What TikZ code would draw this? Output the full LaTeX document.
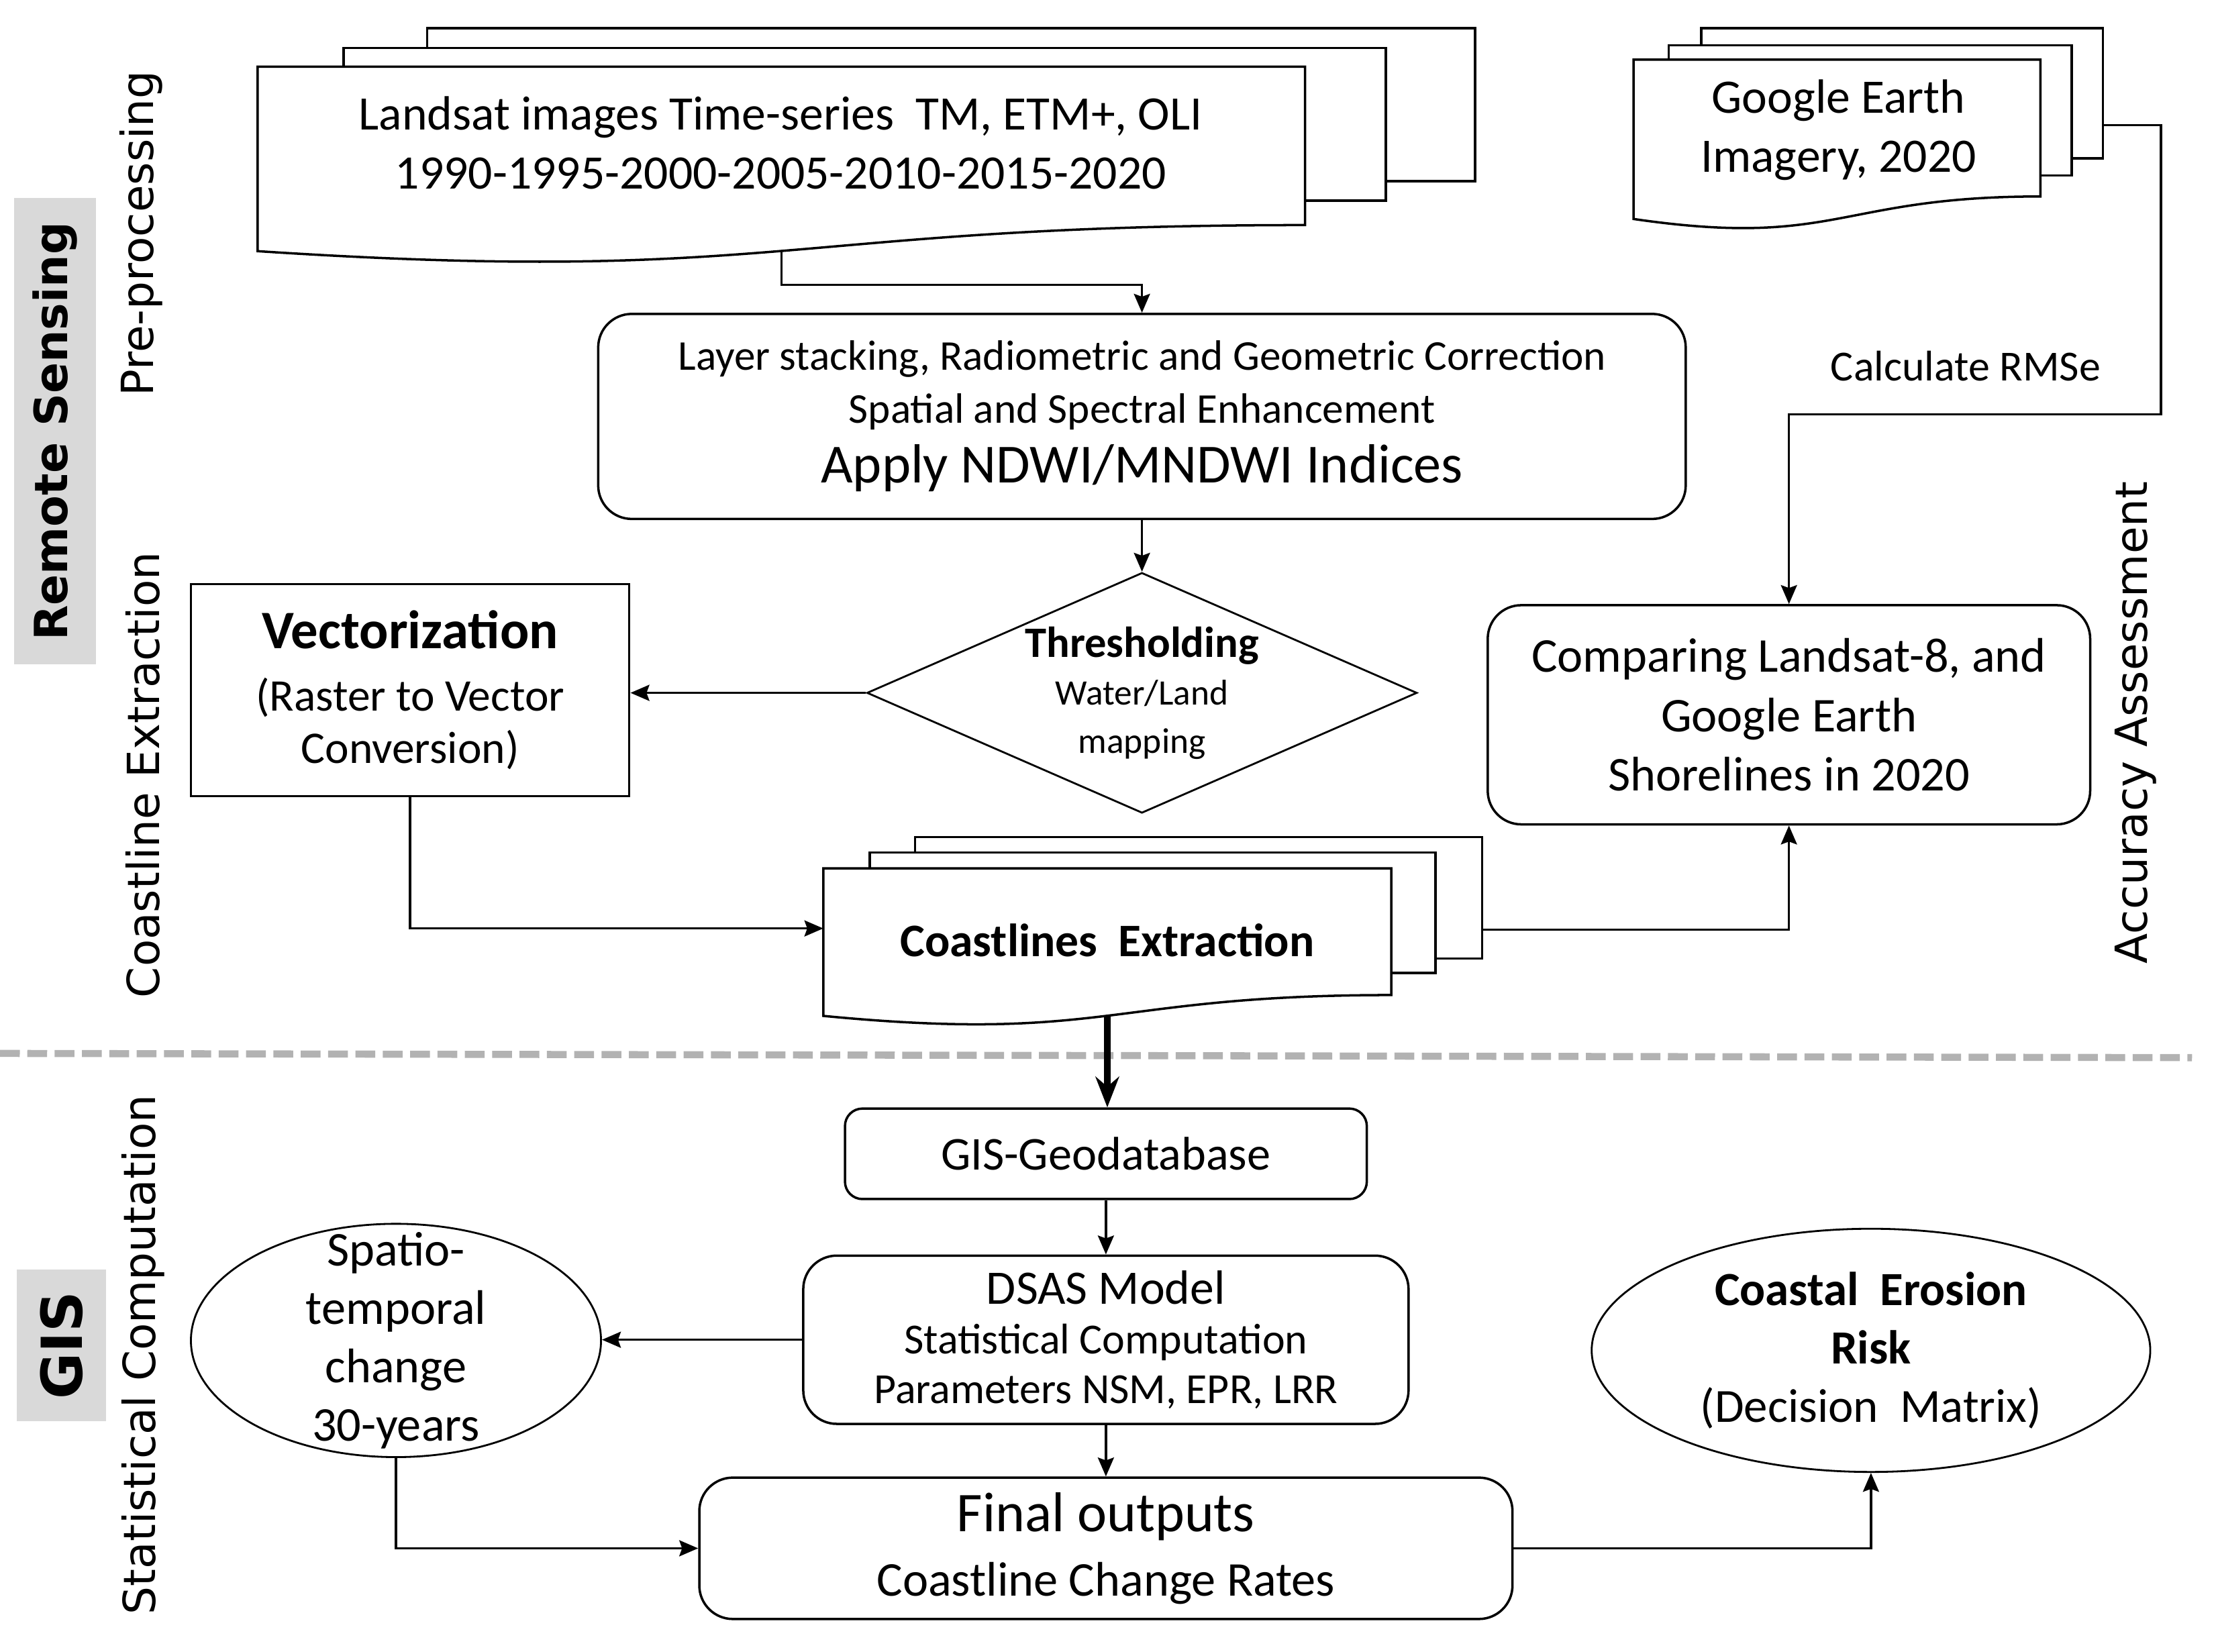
\documentclass[tikz,border=0pt]{standalone}
\usepackage{fontspec}
\setmainfont{Carlito}
\newfontfamily\sidefont{DejaVu Sans}
\usetikzlibrary{shapes.geometric, calc, arrows.meta}

\newcommand{\pu}{0.010537cm}
\newcommand{\sz}[2]{\fontsize{#1}{#2}\selectfont}
% outline of a flowchart "document" sheet, drawn on the anchors of an empty node
\newcommand{\docoutline}[1]{%
  \draw[fill=white] (#1.north west) -- (#1.north east)
    -- ($(#1.north east)!0.802!(#1.south east)$)
    .. controls ($(#1.north)!0.802!(#1.south)$) and ($(#1.north)!1.1075!(#1.south)$)
    .. ($(#1.north west)!0.934!(#1.south west)$) -- cycle;}

\tikzset{
  box/.style={draw, rounded corners=0.25cm, align=center, inner sep=2pt},
  sheet/.style={draw, fill=white, inner sep=0pt},
  docnode/.style={inner sep=0pt},
  decision/.style={draw, diamond, aspect=2.29, inner sep=0pt, align=center, line width=0.4pt},
  oval/.style={draw, ellipse, inner sep=0pt, line width=0.4pt},
  sidelabel/.style={rotate=90, font=\sidefont\sz{9.4}{11}},
  sidetag/.style={rotate=90, fill=gray!30, inner sep=0pt, font=\sidefont\bfseries\sz{9.7}{11}},
  biglink/.style={-{Stealth[length=6.5pt,width=5pt]}, line width=1.4pt},
}

\begin{document}
\begin{tikzpicture}[x=\pu, y=-\pu, line width=0.5pt, >={Stealth[length=4pt,width=3.4pt,inset=0.6pt]}]
    \useasboundingbox (0,0) rectangle (1567,1168);

    % Side labels
    \node[sidetag, minimum width=330*\pu, minimum height=58*\pu] (rs) at (39,305) {Remote Sensing};
    \node[sidetag, font=\sidefont\bfseries\sz{12}{14}, minimum width=107*\pu, minimum height=63*\pu] (gis) at (43.5,951.5) {GIS};
    \node[sidelabel] (pre) at (100,165) {Pre-processing};
    \node[sidelabel] (cext) at (101,548) {Coastline Extraction};
    \node[sidelabel] (stat) at (101,958) {Statistical Computation};
    \node[sidelabel] (acc) at (1510,511) {Accuracy Assessment};

    % Divider
    \draw[gray!60, line width=1.5pt, dash pattern=on 4.2pt off 1.6pt] (0,745) -- (1550,748);

    % Landsat images
    \node[sheet, minimum width=741*\pu, minimum height=108*\pu] (ls3) at (672.5,74) {};
    \node[sheet, minimum width=737*\pu, minimum height=108*\pu] (ls2) at (611.5,88) {};
    \node[docnode, minimum width=739*\pu, minimum height=138*\pu] (ls) at (552.5,117) {};
    \docoutline{ls}
    \node[align=center, font=\sz{10.2}{12.6}] (lstxt) at (552,101) {Landsat images Time-series\ \ TM, ETM+, OLI\\1990-1995-2000-2005-2010-2015-2020};

    % Google Earth imagery
    \node[sheet, minimum width=284*\pu, minimum height=92*\pu] (ge3) at (1345,66) {};
    \node[sheet, minimum width=285*\pu, minimum height=92*\pu] (ge2) at (1322.5,78) {};
    \node[docnode, minimum width=286*\pu, minimum height=119*\pu] (ge) at (1299,102.5) {};
    \docoutline{ge}
    \node[align=center, font=\sz{10.2}{12.6}] (getxt) at (1300,92) {Google Earth\\Imagery, 2020};

    % Pre-processing
    \node[box, minimum width=769*\pu, minimum height=145*\pu, font=\sz{9}{11.2}] (prep) at (807.5,294.5)
        {Layer stacking, Radiometric and Geometric Correction\\Spatial and Spectral Enhancement\\[1.5pt]{\sz{11.7}{14}Apply NDWI/MNDWI Indices}};

    % Thresholding
    \node[decision, minimum width=389*\pu, minimum height=170*\pu, font=\sz{7.6}{10.2}] (thr) at (807.5,490)
        {{\bfseries\sz{9.2}{11}Thresholding}\\Water/Land\\mapping};

    % Vectorization
    \node[draw, align=center, minimum width=310*\pu, minimum height=150*\pu, font=\sz{9.6}{11.2}] (vect) at (290,488)
        {{\bfseries\sz{11.5}{14}Vectorization}\\[2pt](Raster to Vector\\Conversion)};

    % Coastlines extraction
    \node[sheet, minimum width=401*\pu, minimum height=86*\pu] (cl3) at (847.5,635) {};
    \node[sheet, minimum width=400*\pu, minimum height=85*\pu] (cl2) at (815,645.5) {};
    \node[docnode, minimum width=400*\pu, minimum height=110*\pu] (cl) at (783,670) {};
    \docoutline{cl}
    \node[font=\bfseries\sz{9.9}{12}] (cltxt) at (783,665) {Coastlines\ \ Extraction};

    % Accuracy assessment
    \node[box, minimum width=426*\pu, minimum height=155*\pu, font=\sz{10.3}{12.6}] (cmp) at (1265,505.5)
        {Comparing Landsat-8, and\\Google Earth\\Shorelines in 2020};
    \node[font=\sz{9.1}{11}] (rmse) at (1390,259) {Calculate RMSe};

    % GIS part
    \node[box, rounded corners=0.13cm, minimum width=369*\pu, minimum height=64*\pu, font=\sz{10}{12}] (gdb) at (782,816) {GIS-Geodatabase};
    \node[box, minimum width=428*\pu, minimum height=119*\pu, font=\sz{9.1}{10.5}] (dsas) at (782,947.5)
        {{\sz{10.2}{12}DSAS Model}\\Statistical Computation\\Parameters NSM, EPR, LRR};
    \node[box, minimum width=575*\pu, minimum height=100*\pu, font=\sz{10.3}{12.6}] (fin) at (782,1095)
        {{\sz{11.9}{14}Final outputs}\\[1pt]Coastline Change Rates};
    \node[oval, minimum width=290*\pu, minimum height=165*\pu,
        label={[name=spattxt, align=center, font=\sz{10.3}{12.4}]center:{Spatio-\\temporal\\change\\30-years}}] (spat) at (280,948) {};
    \node[oval, minimum width=395*\pu, minimum height=172*\pu,
        label={[name=risktxt, align=center, font=\sz{10.1}{12.4}]center:{{\bfseries Coastal\ \ Erosion}\\{\bfseries Risk}\\(Decision\ \ Matrix)}}] (risk) at (1323,955) {};

    % Connections
    \coordinate (lsbot) at ($(ls.north)!0.933!(ls.south)$);
    \draw[->] (lsbot) -- ++(0,24) -| (prep.north);
    \draw[->] (prep.south) -- (thr.north);
    \draw[->] (thr.west) -- (thr.west -| vect.east);
    \coordinate (clin) at ($(cl.north west)!0.38!(cl.south west)$);
    \draw[->] (vect.south) |- (clin);
    \coordinate (clout) at ($(cl3.north east)!0.756!(cl3.south east)$);
    \draw[->] (clout) -| (cmp.south);
    \coordinate (geout) at ($(ge3.north east)!0.74!(ge3.south east)$);
    \coordinate (rmsebend) at (1528,293);
    \draw[->] (geout) -| (rmsebend) -| (cmp.north);
    \coordinate (clbot) at ($(cl.north)!0.933!(cl.south)$);
    \draw[biglink] (clbot) -- (clbot |- gdb.north);
    \draw[->] (gdb.south) -- (dsas.north);
    \draw[->] (dsas.west) -- (dsas.west -| spat.east);
    \draw[->] (dsas.south) -- (fin.north);
    \draw[->] (spat.south) |- (fin.west);
    \draw[->] (fin.east) -| (risk.south);
\end{tikzpicture}
\end{document}
